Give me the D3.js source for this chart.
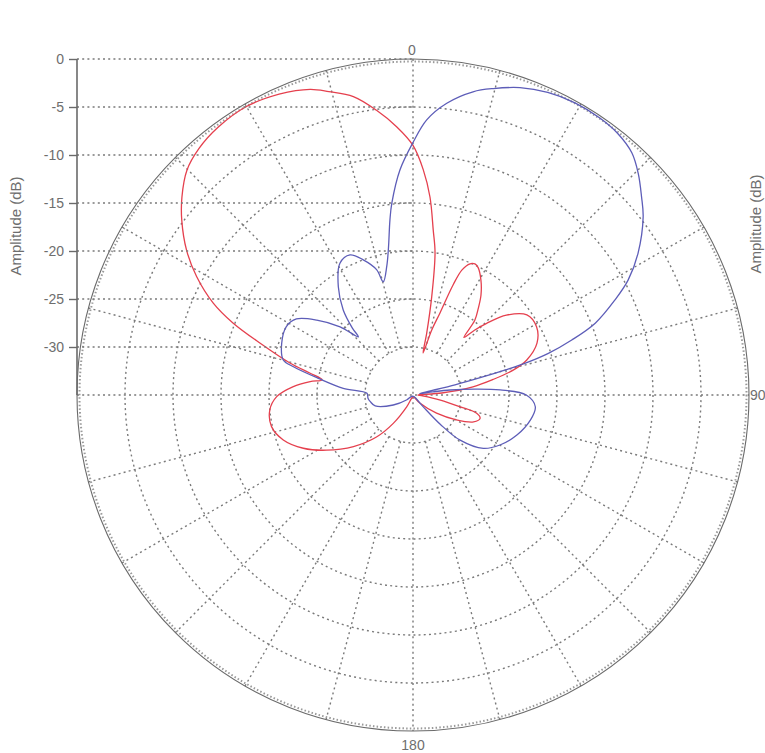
<!DOCTYPE html>
<html lang="en">
<head>
    <meta charset="UTF-8">
    <title>Radiation pattern</title>
    <script src="https://d3js.org/d3.v7.min.js"></script>
    <style>
        body {
            margin: 0;
            background: #fff;
        }
        #chart text {
            font-family: Arial, "Liberation Sans", sans-serif;
            fill: #6e6e6e;
        }
    </style>
</head>
<body>
    <div id="chart"></div>
    <script>
        // amplitude ticks (dB) and angle labels
        const dbTicks = [0, -5, -10, -15, -20, -25, -30];
        const ringLevels = [-30, -25, -20, -15, -10, -5];
        const angleLabels = ['0', '90', '180'];

        // red trace: angle (deg, clockwise from top) / amplitude (dB)
        const redAngle = [0, 2.6, 4.9, 7.0, 8.8, 10.8, 12.5, 13.5, 16, 18.2, 20.0, 21.4, 23.5, 25.3, 27.1, 30.6, 34.2,
            37, 39.6, 41.5, 43.5, 45.8, 49.5, 54.9, 61.1, 67.3, 72.9, 76.0, 79.0, 82.2, 86, 90, 95, 100.5, 104, 106,
            109.2, 113.9, 119.8, 127.7, 140, 160, 190, 208, 214.8, 221.0, 229.1, 237.5, 244.1, 250.9, 257.4, 264.0,
            269.3, 274.0, 277.4, 279.5, 282, 284.5, 288.7, 291.8, 294.7, 298.7, 302.6, 307.1, 310.6, 314.8, 319, 324,
            330, 336, 341.4, 344.5, 348.7, 352.7, 356.5];
        const redDb = [-9.0, -11.5, -14.3, -17.7, -20.0, -24.6, -28.4, -30.5, -28.0, -26.0, -22.8, -21.0, -20.1, -19.9,
            -20.1, -21.1, -22.4, -23.7, -24.9, -27.0, -25.7, -24.3, -22.2, -20.5, -20.3, -21.0, -22.6, -24.2, -26.5,
            -28.7, -32.0, -34.5, -34.0, -32.1, -30.0, -28.1, -27.6, -28.1, -29.8, -31.9, -33.9, -34.8, -34.8, -33.6,
            -31.4, -29.2, -26.8, -24.3, -22.3, -20.7, -19.9, -20.0, -20.8, -22.5, -24.2, -25.4, -24.0, -21.8, -18.2,
            -14.8, -12.1, -9.3, -7.0, -4.8, -3.3, -1.8, -1.0, -0.5, -0.3, -0.7, -1.4, -2.2, -3.3, -5.1, -7.0];

        // blue trace
        const blueAngle = [0, 2.85, 6.6, 11.2, 14.7, 19.2, 24, 29, 34, 38, 42.1, 45.5, 49.1, 52.3, 57.8, 61.9, 64.8,
            68.5, 70.9, 72.9, 74.2, 74.8, 75.5, 76.5, 78.5, 81, 82.3, 84.6, 86.7, 90, 95.5, 102.1, 111.1, 119.9, 127.2,
            133.8, 137, 139, 150, 225, 231.6, 243.1, 253.9, 261.1, 266, 272.1, 275.5, 280, 283.3, 285.1, 291.5, 298.4,
            303.1, 307.9, 313.1, 316.8, 317.8, 320.6, 325.4, 331.0, 335.8, 339.8, 343.8, 345.3, 348.5, 350.5, 352.5,
            353.7, 356.7];
        const blueDb = [-8.7, -6.3, -4.4, -2.8, -2.0, -1.1, -0.5, -0.2, -0.2, -0.4, -1.0, -2.1, -3.5, -4.7, -7.3, -9.6,
            -11.75, -14.6, -17.5, -20.25, -22.9, -25.1, -27.5, -30.5, -34.3, -32.9, -31.1, -28.5, -25.9, -23.2, -22.2,
            -22.5, -23.4, -24.55, -25.8, -28.2, -30.8, -33.4, -34.8, -34.8, -34.2, -32.7, -30.9, -30.5, -30.3, -30.2,
            -27.7, -25.0, -22.2, -21.0, -20.3, -20.0, -20.5, -22.3, -24.6, -26.7, -25.6, -23.55, -21.3, -19.3, -19.0,
            -20.0, -21.4, -22.8, -21.3, -19.5, -16.6, -14.9, -11.5];

        const config = {
            width: 765,
            height: 753,
            cx: 413,
            cy: 395,
            radius: 336,
            axisX: 77,
            grid: '#7a7a7a'
        };

        const svg = d3.select('#chart')
            .append('svg')
            .attr('width', config.width)
            .attr('height', config.height);

        const r = d3.scaleLinear().domain([-35, 0]).range([0, config.radius]);
        const yAmp = d3.scaleLinear().domain([-35, 0]).range([config.cy, config.cy - config.radius]);

        const g = svg.append('g')
            .attr('transform', `translate(${config.cx},${config.cy})`);

        const dotted = sel => sel
            .attr('fill', 'none')
            .attr('stroke', config.grid)
            .attr('stroke-width', 1.4)
            .attr('stroke-dasharray', '2,3.2');

        // horizontal amplitude gridlines from the axis to the centre
        svg.selectAll('.hgrid')
            .data(dbTicks)
            .join('line')
            .attr('class', 'hgrid')
            .attr('x1', config.axisX)
            .attr('x2', config.cx)
            .attr('y1', d => yAmp(d))
            .attr('y2', d => yAmp(d))
            .call(dotted);

        // rings
        g.selectAll('.ring')
            .data(ringLevels)
            .join('circle')
            .attr('class', 'ring')
            .attr('r', d => r(d))
            .call(dotted);

        // spokes every 15 degrees, starting at the inner ring
        const spokes = d3.range(0, 360, 15).filter(a => a % 90 !== 0);
        g.selectAll('.spoke')
            .data(spokes)
            .join('line')
            .attr('class', 'spoke')
            .attr('x1', a => r(-30) * Math.sin(a * Math.PI / 180))
            .attr('y1', a => -r(-30) * Math.cos(a * Math.PI / 180))
            .attr('x2', a => r(0) * Math.sin(a * Math.PI / 180))
            .attr('y2', a => -r(0) * Math.cos(a * Math.PI / 180))
            .call(dotted);

        // full diameters
        g.append('line')
            .attr('x1', 0).attr('x2', 0)
            .attr('y1', -r(0)).attr('y2', r(0))
            .call(dotted);
        g.append('line')
            .attr('x1', config.axisX - config.cx).attr('x2', r(0))
            .attr('y1', 0).attr('y2', 0)
            .call(dotted);

        // outer rim: solid line with a dotted band inside
        g.append('circle')
            .attr('r', r(0) - 2.5)
            .attr('fill', 'none')
            .attr('stroke', '#9a9a9a')
            .attr('stroke-width', 2)
            .attr('stroke-dasharray', '1.5,2.2');
        g.append('circle')
            .attr('r', r(0))
            .attr('fill', 'none')
            .attr('stroke', '#6a6a6a')
            .attr('stroke-width', 1.1);

        // amplitude axis
        const axis = d3.axisLeft(yAmp)
            .tickValues(dbTicks)
            .tickFormat(d => String(d))
            .tickSize(8)
            .tickPadding(5);
        const axisG = svg.append('g')
            .attr('transform', `translate(${config.axisX},0)`)
            .call(axis);
        axisG.select('.domain')
            .attr('d', `M0,${yAmp(0)}V${yAmp(-35)}`)
            .attr('stroke', '#6a6a6a')
            .attr('stroke-width', 1.6);
        axisG.selectAll('.tick line').attr('stroke', '#6a6a6a').attr('stroke-width', 1.4);
        axisG.selectAll('.tick text')
            .attr('font-size', 14)
            .style('fill', '#6e6e6e');

        svg.append('text')
            .attr('transform', 'translate(21,226) rotate(-90)')
            .attr('text-anchor', 'middle')
            .attr('font-size', 15)
            .text('Amplitude (dB)');
        svg.append('text')
            .attr('transform', 'translate(761,224) rotate(-90)')
            .attr('text-anchor', 'middle')
            .attr('font-size', 15)
            .text('Amplitude (dB)');

        // angle labels
        svg.append('text')
            .attr('x', config.cx - 1).attr('y', 55)
            .attr('text-anchor', 'middle')
            .attr('font-size', 14)
            .text(angleLabels[0]);
        svg.append('text')
            .attr('x', config.cx + r(0) + 1).attr('y', config.cy + 5)
            .attr('font-size', 14)
            .text(angleLabels[1]);
        svg.append('text')
            .attr('x', config.cx).attr('y', 750)
            .attr('text-anchor', 'middle')
            .attr('font-size', 14)
            .text(angleLabels[2]);

        // traces
        const radial = d3.lineRadial()
            .angle(d => d.a * Math.PI / 180)
            .radius(d => r(d.db))
            .curve(d3.curveCatmullRomClosed.alpha(0.5));

        const redData = redAngle.map((a, i) => ({ a: a, db: redDb[i] }));
        const blueData = blueAngle.map((a, i) => ({ a: a, db: blueDb[i] }));

        g.append('path')
            .datum(redData)
            .attr('d', radial)
            .attr('fill', 'none')
            .attr('stroke', '#e5404e')
            .attr('stroke-width', 1.3);

        g.append('path')
            .datum(blueData)
            .attr('d', radial)
            .attr('fill', 'none')
            .attr('stroke', '#5d5db8')
            .attr('stroke-width', 1.3);
    </script>
</body>
</html>
